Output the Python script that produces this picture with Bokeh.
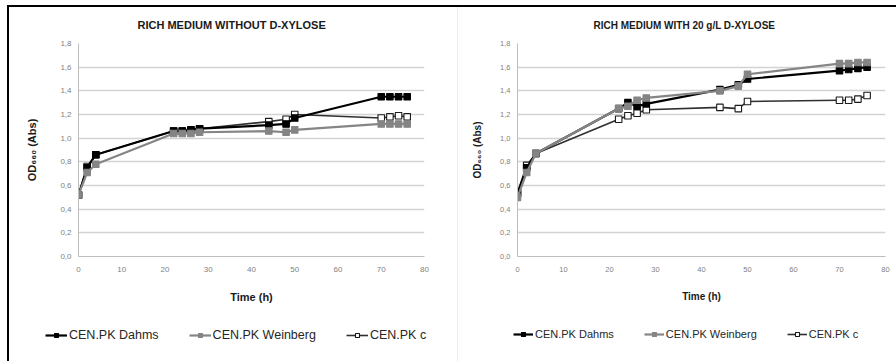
from bokeh.plotting import figure
from bokeh.layouts import row, column
from bokeh.models import (FixedTicker, CustomJSTickFormatter, Legend, LegendItem, Spacer, Div)
from bokeh.embed import file_html
from bokeh.resources import INLINE

# ---------------- data ----------------
time_h = [0, 2, 4, 22, 24, 26, 28, 44, 48, 50, 70, 72, 74, 76]

# Rich medium without D-xylose
no_xyl_dahms    = [0.52, 0.75, 0.86, 1.06, 1.06, 1.07, 1.08, 1.11, 1.12, 1.17, 1.35, 1.35, 1.35, 1.35]
no_xyl_weinberg = [0.52, 0.71, 0.78, 1.04, 1.04, 1.04, 1.05, 1.06, 1.05, 1.07, 1.12, 1.12, 1.12, 1.12]
no_xyl_c        = [0.52, 0.76, 0.86, 1.06, 1.06, 1.07, 1.08, 1.14, 1.16, 1.20, 1.17, 1.18, 1.19, 1.18]

# Rich medium with 20 g/L D-xylose
xyl_dahms    = [0.53, 0.75, 0.87, 1.25, 1.30, 1.27, 1.29, 1.41, 1.45, 1.50, 1.57, 1.58, 1.59, 1.60]
xyl_weinberg = [0.50, 0.71, 0.87, 1.25, 1.27, 1.32, 1.34, 1.40, 1.44, 1.54, 1.63, 1.63, 1.64, 1.64]
xyl_c        = [0.54, 0.77, 0.87, 1.16, 1.19, 1.21, 1.24, 1.26, 1.25, 1.31, 1.32, 1.32, 1.33, 1.36]

series_names = ["CEN.PK Dahms", "CEN.PK Weinberg", "CEN.PK c"]
titles = ["RICH MEDIUM WITHOUT D-XYLOSE", "RICH MEDIUM WITH 20 g/L D-XYLOSE"]
x_label = "Time (h)"
y_label = "OD\u2086\u2086\u2080 (Abs)"
x_ticks = [0, 10, 20, 30, 40, 50, 60, 70, 80]
y_ticks = [0.0, 0.2, 0.4, 0.6, 0.8, 1.0, 1.2, 1.4, 1.6, 1.8]

FONT = "Liberation Sans"

styles = [
    dict(line_color="#000000", line_width=2.2, fill_color="#000000", marker_line="#000000"),
    dict(line_color="#858585", line_width=2.2, fill_color="#858585", marker_line="#858585"),
    dict(line_color="#303030", line_width=1.6, fill_color="#ffffff", marker_line="#1a1a1a"),
]
draw_order = [2, 0, 1]

CHART_H = 310
LEG_H = 44


def make_panel(title, ys, width, mb_left, mb_right, title_offset, fs_title, fs_axis,
               fs_tick, ylab_standoff):
    p = figure(width=width, height=CHART_H, output_backend="svg", toolbar_location=None,
               x_range=(0, 80), y_range=(0, 1.8),
               min_border_left=mb_left, min_border_right=mb_right,
               min_border_top=36, min_border_bottom=CHART_H - 36 - 213)
    p.outline_line_color = None
    p.background_fill_color = "white"
    p.border_fill_color = "white"

    p.title.text = title
    p.title.align = "left"
    p.title.offset = title_offset
    p.title.vertical_align = "top"
    p.title.text_font = FONT
    p.title.text_font_style = "bold"
    p.title.text_font_size = fs_title
    p.title.text_color = "#1a1a1a"
    p.title.standoff = 21

    p.xgrid.grid_line_color = None
    p.ygrid.grid_line_color = "#d3d3d3"
    p.ygrid.grid_line_width = 1.3
    p.yaxis.ticker = FixedTicker(ticks=y_ticks)
    p.xaxis.ticker = FixedTicker(ticks=x_ticks)
    p.yaxis.formatter = CustomJSTickFormatter(code="return tick.toFixed(1).replace('.', ',');")

    for ax in (p.xaxis, p.yaxis):
        ax.axis_line_color = "#bdbdbd"
        ax.axis_line_width = 1
        ax.major_tick_line_color = None
        ax.minor_tick_line_color = None
        ax.major_tick_out = 0
        ax.major_tick_in = 0
        ax.major_label_text_font = FONT
        ax.major_label_text_font_size = fs_tick
        ax.major_label_text_color = "#7f7f7f"
        ax.axis_label_text_font = FONT
        ax.axis_label_text_font_style = "bold"
        ax.axis_label_text_font_size = fs_axis
        ax.axis_label_text_color = "#1a1a1a"
    p.xaxis.axis_label = x_label
    p.yaxis.axis_label = y_label
    p.xaxis.major_label_standoff = 10
    p.xaxis.axis_label_standoff = 16
    p.yaxis.major_label_standoff = 7
    p.yaxis.axis_label_standoff = ylab_standoff

    for i in draw_order:
        y, st = ys[i], styles[i]
        p.line(time_h, y, line_color=st["line_color"], line_width=st["line_width"])
        p.scatter(time_h, y, marker="square", size=6.5, fill_color=st["fill_color"],
                  line_color=st["marker_line"], line_width=1.1)
    return p


def make_legend(ys, width, fs_legend, legend_x, legend_y, glyph_w):
    # legend-only strip under each chart; its (hidden) renderers reuse the series data
    f = figure(width=width, height=LEG_H, output_backend="svg", toolbar_location=None,
               min_border_left=0, min_border_right=0,
               min_border_top=0, min_border_bottom=0,
               x_range=(0, 80), y_range=(0, 1.8))
    f.axis.visible = False
    f.grid.visible = False
    f.outline_line_color = None
    f.background_fill_color = "white"
    f.border_fill_color = "white"
    items = []
    for name, y, st in zip(series_names, ys, styles):
        ln = f.line(time_h, y, line_color=st["line_color"], line_width=st["line_width"],
                    visible=False)
        sc = f.scatter(time_h, y, marker="square", size=6.5, fill_color=st["fill_color"],
                       line_color=st["marker_line"], line_width=1.1, visible=False)
        items.append(LegendItem(label=name, renderers=[ln, sc]))
    legend = Legend(items=items, orientation="horizontal", location=(legend_x, legend_y),
                    padding=0, margin=0, spacing=30, glyph_width=glyph_w, glyph_height=10,
                    label_height=10, label_standoff=2, border_line_color=None,
                    background_fill_alpha=0, inactive_fill_alpha=0,
                    label_text_font=FONT, label_text_font_size=fs_legend,
                    label_text_color="#262626")
    f.add_layout(legend, "center")
    return f


ys1 = [no_xyl_dahms, no_xyl_weinberg, no_xyl_c]
ys2 = [xyl_dahms, xyl_weinberg, xyl_c]
p1 = make_panel(titles[0], ys1, 448, 69, 33, 59, "11px", "11px", "8px", 19)
p2 = make_panel(titles[1], ys2, 438, 59, 11, 76, "10px", "10px", "7.5px", 14)
leg1 = make_legend(ys1, 448, "12.5px", 36, 19, 22)
leg2 = make_legend(ys2, 438, "11px", 55, 21, 20)


def bar(w, h, color):
    return Div(text="", width=w, height=h, margin=0,
               styles={"background-color": color})


layout = row(Spacer(width=7, height=361),
             column(Spacer(width=889, height=5),
                    bar(889, 2, "black"),
                    row(bar(2, CHART_H, "black"), p1, bar(1, CHART_H, "#ececec"), p2),
                    row(bar(2, LEG_H, "black"), leg1, bar(1, LEG_H, "#ececec"), leg2)))

with open("out.html", "w") as fh:
    fh.write(file_html(layout, INLINE))
